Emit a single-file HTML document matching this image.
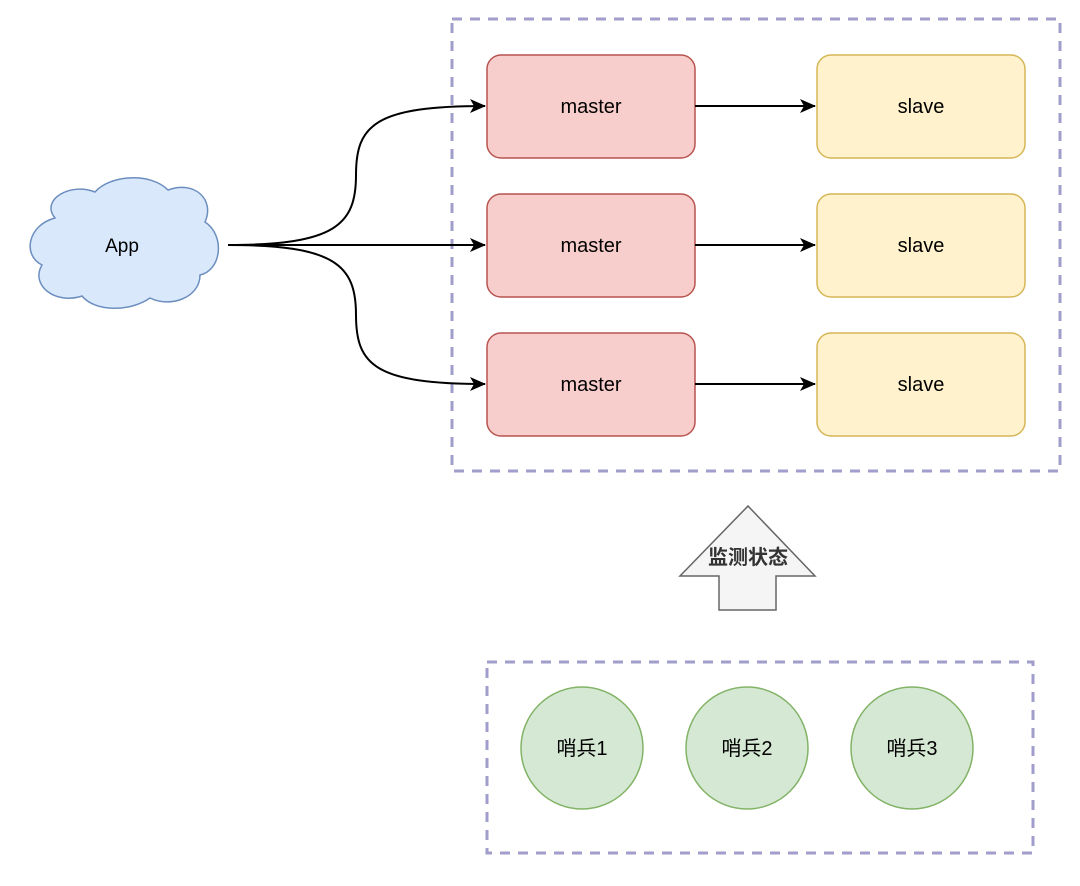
<!DOCTYPE html>
<html><head><meta charset="utf-8"><style>
html,body{margin:0;padding:0;background:#fff;width:1080px;height:886px;overflow:hidden}
text{font-family:"Liberation Sans","Noto Sans CJK SC",sans-serif}
</style></head><body>
<svg width="1080" height="886" viewBox="0 0 1080 886" xmlns="http://www.w3.org/2000/svg">
<defs><marker id="ar" markerWidth="16" markerHeight="14" refX="15" refY="7" orient="auto" markerUnits="userSpaceOnUse"><path d="M0,0 L16,7 L0,14 L4,7 Z" fill="#000"/></marker></defs>
<rect x="452" y="19" width="608" height="452" fill="none" stroke="#a29ecb" stroke-width="3" stroke-dasharray="10,8"/>
<rect x="487" y="662" width="546" height="191" fill="none" stroke="#a29ecb" stroke-width="3" stroke-dasharray="10,8"/>
<!-- cloud -->
<path d="M55,218 C40,200 70,182 95,192 C110,175 150,172 168,190 C195,180 215,200 205,222 C225,235 222,270 200,275 C200,298 170,308 150,298 C130,312 95,312 82,296 C55,305 30,285 42,265 C22,255 28,225 55,218 Z" fill="#dae8fc" stroke="#6c8ebf" stroke-width="1.5"/>
<text x="122" y="252" font-size="19" text-anchor="middle" fill="#000">App</text>
<!-- connectors -->
<path d="M228,245 L485,245" fill="none" stroke="#000" stroke-width="2" marker-end="url(#ar)"/>
<path d="M228,245 C335,245 356,225 356,175 C356,125 375,106 485,106" fill="none" stroke="#000" stroke-width="2" marker-end="url(#ar)"/>
<path d="M228,245 C335,245 356,265 356,315 C356,365 375,384 485,384" fill="none" stroke="#000" stroke-width="2" marker-end="url(#ar)"/>
<g fill="#f8cecc" stroke="#b85450" stroke-width="1.5">
<rect x="487" y="55" width="208" height="103" rx="14"/>
<rect x="487" y="194" width="208" height="103" rx="14"/>
<rect x="487" y="333" width="208" height="103" rx="14"/>
</g>
<g fill="#fff2cc" stroke="#d6b656" stroke-width="1.5">
<rect x="817" y="55" width="208" height="103" rx="14"/>
<rect x="817" y="194" width="208" height="103" rx="14"/>
<rect x="817" y="333" width="208" height="103" rx="14"/>
</g>
<g stroke="#000" stroke-width="2" fill="none">
<path d="M695,106 L815,106" marker-end="url(#ar)"/>
<path d="M695,245 L815,245" marker-end="url(#ar)"/>
<path d="M695,384 L815,384" marker-end="url(#ar)"/>
</g>
<g font-size="20" text-anchor="middle" fill="#000">
<text x="591" y="113">master</text><text x="591" y="252">master</text><text x="591" y="391">master</text>
<text x="921" y="113">slave</text><text x="921" y="252">slave</text><text x="921" y="391">slave</text>
</g>
<!-- up arrow -->
<path d="M748,506 L815,576 L776,576 L776,610 L719,610 L719,576 L680,576 Z" fill="#f5f5f5" stroke="#666" stroke-width="1.5"/>
<text x="748" y="564" font-size="20" font-weight="bold" text-anchor="middle" fill="#333">监测状态</text>
<!-- sentinels -->
<g fill="#d5e8d4" stroke="#82b366" stroke-width="1.5">
<circle cx="582" cy="748" r="61"/><circle cx="747" cy="748" r="61"/><circle cx="912" cy="748" r="61"/>
</g>
<g font-size="20" text-anchor="middle" fill="#000">
<text x="582" y="755">哨兵1</text><text x="747" y="755">哨兵2</text><text x="912" y="755">哨兵3</text>
</g>
</svg>
</body></html>
